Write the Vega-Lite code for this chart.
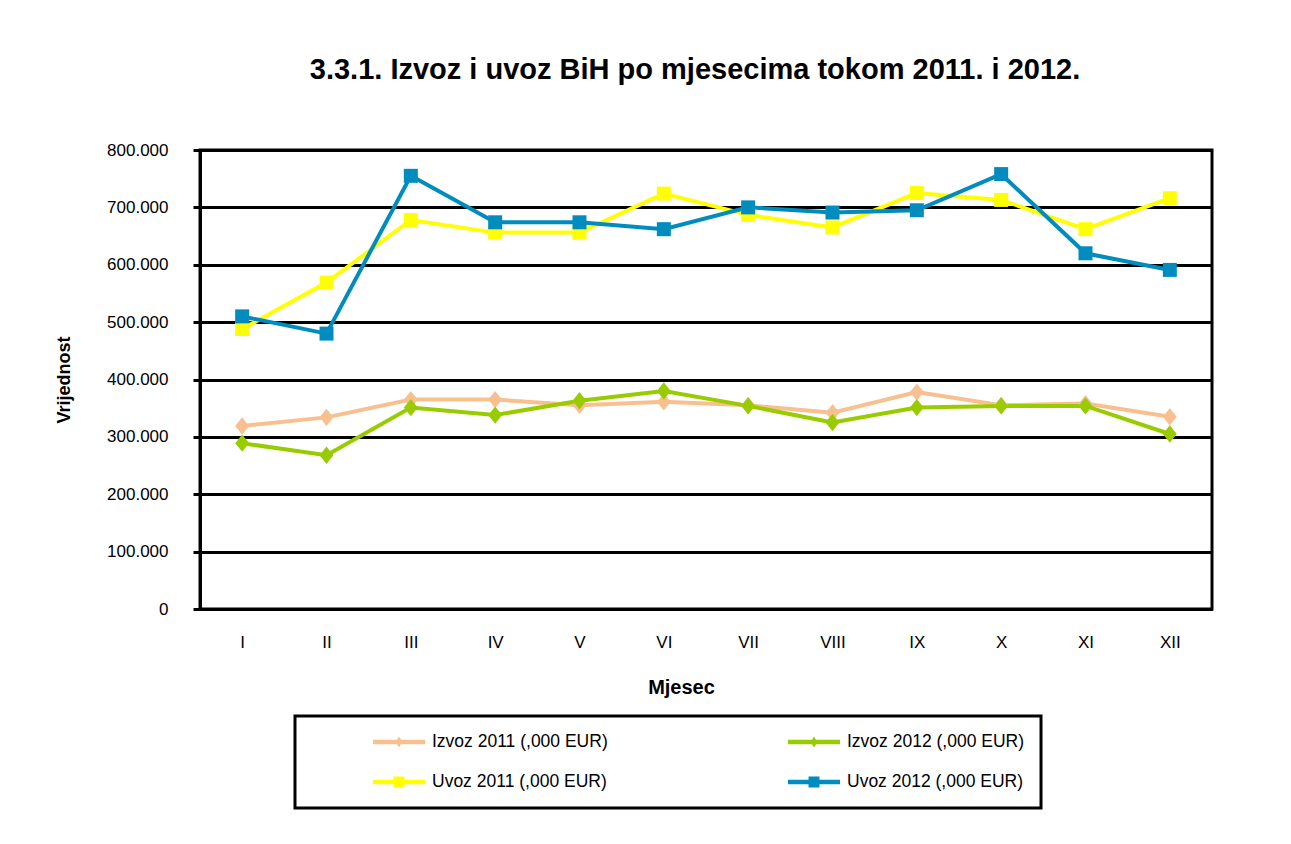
{
  "$schema": "https://vega.github.io/schema/vega-lite/v6.json",
  "autosize": {"type": "none"},
  "width": 1012,
  "height": 459,
  "padding": {"left": 200, "top": 150, "right": 79, "bottom": 235},
  "background": "white",
  "title": {
    "text": "3.3.1. Izvoz i uvoz BiH po mjesecima tokom 2011. i 2012.",
    "fontSize": 29,
    "fontWeight": "bold",
    "font": "Liberation Sans",
    "color": "black",
    "anchor": "middle",
    "frame": "group",
    "baseline": "middle",
    "offset": 42,
    "dx": -11
  },
  "config": {
    "font": "Liberation Sans",
    "view": {"stroke": "black", "strokeWidth": 3},
    "legend": {"strokeColor": "black", "strokeWidth": 3}
  },
  "data": {
    "values": [
      {"m": "I", "s": "Izvoz 2011 (,000 EUR)", "v": 319000},
      {"m": "II", "s": "Izvoz 2011 (,000 EUR)", "v": 334000},
      {"m": "III", "s": "Izvoz 2011 (,000 EUR)", "v": 365000},
      {"m": "IV", "s": "Izvoz 2011 (,000 EUR)", "v": 365000},
      {"m": "V", "s": "Izvoz 2011 (,000 EUR)", "v": 355000},
      {"m": "VI", "s": "Izvoz 2011 (,000 EUR)", "v": 361000},
      {"m": "VII", "s": "Izvoz 2011 (,000 EUR)", "v": 355000},
      {"m": "VIII", "s": "Izvoz 2011 (,000 EUR)", "v": 342000},
      {"m": "IX", "s": "Izvoz 2011 (,000 EUR)", "v": 378000},
      {"m": "X", "s": "Izvoz 2011 (,000 EUR)", "v": 355000},
      {"m": "XI", "s": "Izvoz 2011 (,000 EUR)", "v": 358000},
      {"m": "XII", "s": "Izvoz 2011 (,000 EUR)", "v": 335000},
      {"m": "I", "s": "Izvoz 2012 (,000 EUR)", "v": 289000},
      {"m": "II", "s": "Izvoz 2012 (,000 EUR)", "v": 268000},
      {"m": "III", "s": "Izvoz 2012 (,000 EUR)", "v": 351000},
      {"m": "IV", "s": "Izvoz 2012 (,000 EUR)", "v": 338000},
      {"m": "V", "s": "Izvoz 2012 (,000 EUR)", "v": 363000},
      {"m": "VI", "s": "Izvoz 2012 (,000 EUR)", "v": 380000},
      {"m": "VII", "s": "Izvoz 2012 (,000 EUR)", "v": 354000},
      {"m": "VIII", "s": "Izvoz 2012 (,000 EUR)", "v": 325000},
      {"m": "IX", "s": "Izvoz 2012 (,000 EUR)", "v": 351000},
      {"m": "X", "s": "Izvoz 2012 (,000 EUR)", "v": 354000},
      {"m": "XI", "s": "Izvoz 2012 (,000 EUR)", "v": 354000},
      {"m": "XII", "s": "Izvoz 2012 (,000 EUR)", "v": 305000},
      {"m": "I", "s": "Uvoz 2011 (,000 EUR)", "v": 488000},
      {"m": "II", "s": "Uvoz 2011 (,000 EUR)", "v": 569000},
      {"m": "III", "s": "Uvoz 2011 (,000 EUR)", "v": 678000},
      {"m": "IV", "s": "Uvoz 2011 (,000 EUR)", "v": 656000},
      {"m": "V", "s": "Uvoz 2011 (,000 EUR)", "v": 656000},
      {"m": "VI", "s": "Uvoz 2011 (,000 EUR)", "v": 724000},
      {"m": "VII", "s": "Uvoz 2011 (,000 EUR)", "v": 687000},
      {"m": "VIII", "s": "Uvoz 2011 (,000 EUR)", "v": 665000},
      {"m": "IX", "s": "Uvoz 2011 (,000 EUR)", "v": 725000},
      {"m": "X", "s": "Uvoz 2011 (,000 EUR)", "v": 713000},
      {"m": "XI", "s": "Uvoz 2011 (,000 EUR)", "v": 662000},
      {"m": "XII", "s": "Uvoz 2011 (,000 EUR)", "v": 716000},
      {"m": "I", "s": "Uvoz 2012 (,000 EUR)", "v": 510000},
      {"m": "II", "s": "Uvoz 2012 (,000 EUR)", "v": 480000},
      {"m": "III", "s": "Uvoz 2012 (,000 EUR)", "v": 755000},
      {"m": "IV", "s": "Uvoz 2012 (,000 EUR)", "v": 674000},
      {"m": "V", "s": "Uvoz 2012 (,000 EUR)", "v": 674000},
      {"m": "VI", "s": "Uvoz 2012 (,000 EUR)", "v": 662000},
      {"m": "VII", "s": "Uvoz 2012 (,000 EUR)", "v": 700000},
      {"m": "VIII", "s": "Uvoz 2012 (,000 EUR)", "v": 691000},
      {"m": "IX", "s": "Uvoz 2012 (,000 EUR)", "v": 695000},
      {"m": "X", "s": "Uvoz 2012 (,000 EUR)", "v": 758000},
      {"m": "XI", "s": "Uvoz 2012 (,000 EUR)", "v": 620000},
      {"m": "XII", "s": "Uvoz 2012 (,000 EUR)", "v": 591000}
    ]
  },
  "encoding": {
    "x": {
      "field": "m",
      "type": "ordinal",
      "sort": ["I", "II", "III", "IV", "V", "VI", "VII", "VIII", "IX", "X", "XI", "XII"],
      "scale": {"paddingInner": 0, "paddingOuter": 0},
      "axis": {
        "title": "Mjesec",
        "titleFontSize": 20,
        "titleFontWeight": "bold",
        "titleColor": "black",
        "titlePadding": 27,
        "titleX": 481,
        "labelAngle": 0,
        "labelFontSize": 17,
        "labelColor": "black",
        "labelPadding": 25,
        "ticks": false,
        "domainColor": "black",
        "domainWidth": 3,
        "grid": false
      }
    },
    "y": {
      "field": "v",
      "type": "quantitative",
      "scale": {"domain": [0, 800000], "nice": false},
      "axis": {
        "title": "Vrijednost",
        "titleFontSize": 18,
        "titleFontWeight": "bold",
        "titleColor": "black",
        "titlePadding": 33,
        "values": [0, 100000, 200000, 300000, 400000, 500000, 600000, 700000, 800000],
        "labelExpr": "replace(format(datum.value, ','), ',', '.')",
        "labelFontSize": 17,
        "labelColor": "black",
        "labelPadding": 25,
        "tickSize": 7,
        "tickColor": "black",
        "tickWidth": 3,
        "domainColor": "black",
        "domainWidth": 3,
        "grid": true,
        "gridColor": "black",
        "gridWidth": 3,
        "gridOpacity": 1
      }
    }
  },
  "layer": [
    {
      "mark": {"type": "point", "filled": true, "opacity": 0, "size": 2704},
      "encoding": {
        "color": {
          "field": "s",
          "type": "nominal",
          "scale": {
            "domain": ["Izvoz 2011 (,000 EUR)", "Izvoz 2012 (,000 EUR)", "Uvoz 2011 (,000 EUR)", "Uvoz 2012 (,000 EUR)"],
            "range": ["#F9C08F", "#99CC00", "#FFFF00", "#008CBE"]
          },
          "legend": {
            "title": null,
            "orient": "none",
            "direction": "horizontal",
            "legendX": 95,
            "legendY": 566,
            "columns": 2,
            "padding": 16,
            "rowPadding": 20,
            "columnPadding": 118,
            "clipHeight": 20,
            "symbolSize": 2704,
            "symbolOpacity": 1,
            "symbolStrokeWidth": 0,
            "symbolOffset": 62,
            "labelOffset": 7,
            "labelFontSize": 17.5,
            "labelColor": "black",
            "labelLimit": 400,
            "labelExpr": "datum.label + '\u2002\u2002\u2002'"
          }
        },
        "shape": {
          "field": "s",
          "type": "nominal",
          "scale": {
            "domain": ["Izvoz 2011 (,000 EUR)", "Izvoz 2012 (,000 EUR)", "Uvoz 2011 (,000 EUR)", "Uvoz 2012 (,000 EUR)"],
            "range": [
              "M-1,-0.09L1,-0.09L1,0.09L-1,0.09ZM0,-0.21L0.13,0L0,0.21L-0.13,0Z",
              "M-1,-0.09L1,-0.09L1,0.09L-1,0.09ZM0,-0.21L0.13,0L0,0.21L-0.13,0Z",
              "M-1,-0.09L1,-0.09L1,0.09L-1,0.09ZM-0.21,-0.21L0.21,-0.21L0.21,0.21L-0.21,0.21Z",
              "M-1,-0.09L1,-0.09L1,0.09L-1,0.09ZM-0.21,-0.21L0.21,-0.21L0.21,0.21L-0.21,0.21Z"
            ]
          },
          "legend": {
            "title": null,
            "orient": "none",
            "direction": "horizontal",
            "legendX": 95,
            "legendY": 566,
            "columns": 2,
            "padding": 16,
            "rowPadding": 20,
            "columnPadding": 118,
            "clipHeight": 20,
            "symbolSize": 2704,
            "symbolOpacity": 1,
            "symbolStrokeWidth": 0,
            "symbolOffset": 62,
            "labelOffset": 7,
            "labelFontSize": 17.5,
            "labelColor": "black",
            "labelLimit": 400,
            "labelExpr": "datum.label + '\u2002\u2002\u2002'"
          }
        }
      }
    },
    {
      "mark": {"type": "line", "strokeWidth": 4},
      "encoding": {"color": {"field": "s", "type": "nominal", "legend": null}}
    },
    {
      "transform": [{"filter": "indexof(datum.s, 'Izvoz') == 0"}],
      "mark": {"type": "point", "filled": true, "opacity": 1, "shape": "M0,-1L0.8,0L0,1L-0.8,0Z", "size": 300},
      "encoding": {"color": {"field": "s", "type": "nominal", "legend": null}}
    },
    {
      "transform": [{"filter": "indexof(datum.s, 'Uvoz') == 0"}],
      "mark": {"type": "point", "filled": true, "opacity": 1, "shape": "square", "size": 196},
      "encoding": {"color": {"field": "s", "type": "nominal", "legend": null}}
    }
  ]
}
